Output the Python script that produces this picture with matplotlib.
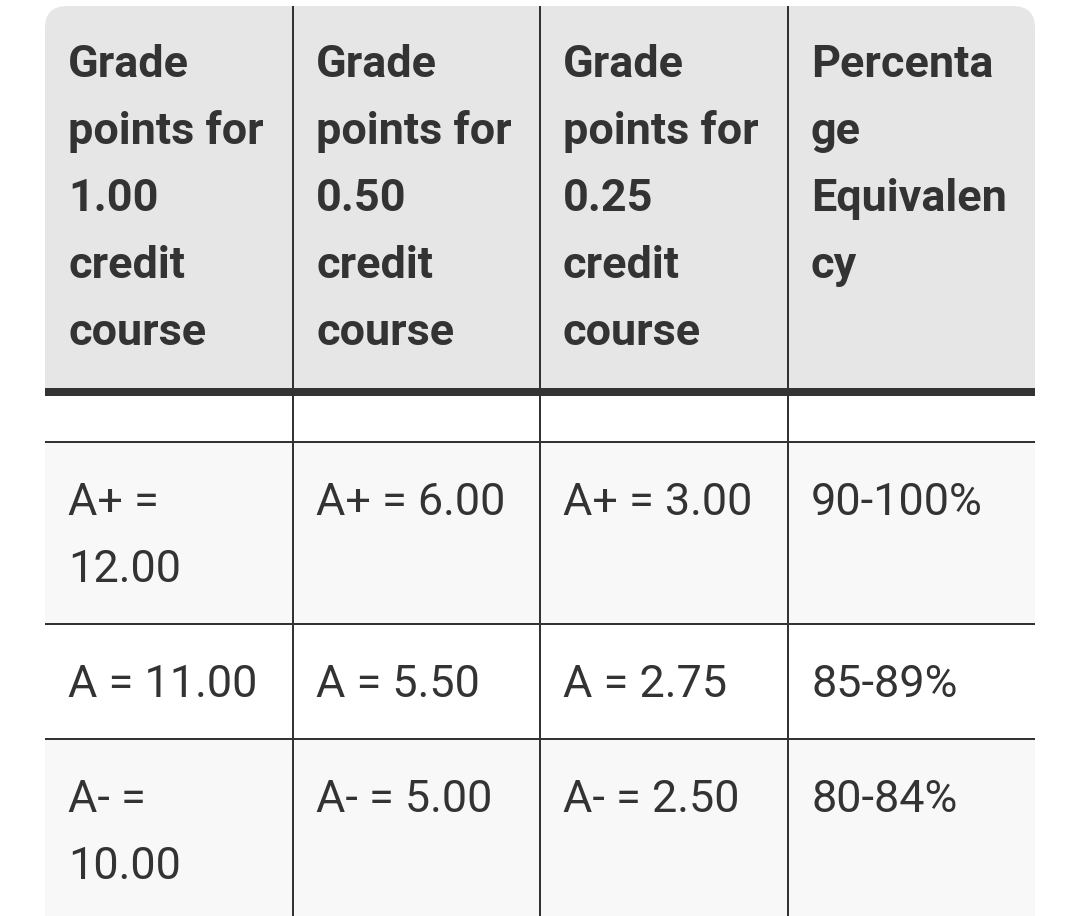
import matplotlib
matplotlib.use("Agg")
import matplotlib.pyplot as plt
from matplotlib.patches import Rectangle, FancyBboxPatch

# table content (header cells are kept as they wrap in the picture)
headers = [
    ["Grade", "points for", "1.00", "credit", "course"],
    ["Grade", "points for", "0.50", "credit", "course"],
    ["Grade", "points for", "0.25", "credit", "course"],
    ["Percenta", "ge", "Equivalen", "cy"],
]
col_100 = [["A+ =", "12.00"], ["A = 11.00"], ["A- =", "10.00"]]
col_050 = ["A+ = 6.00", "A = 5.50", "A- = 5.00"]
col_025 = ["A+ = 3.00", "A = 2.75", "A- = 2.50"]
percent = ["90-100%", "85-89%", "80-84%"]

# layout in pixels
W, H = 1080, 916
col_edges = [45, 293, 540, 788, 1035]
header_top, header_bottom = 6, 388
thick = 8
empty_row_h = 45
row_heights = [180, 113, 180]
line_w = 2
line_step = 67
first_base = 71
pad_x = 23
text_col = "#333333"
line_col = "#333333"
header_bg = "#e6e6e6"
stripe_bg = "#f8f8f8"

plt.rcParams["font.family"] = ["Roboto", "DejaVu Sans"]
fs = 32.4

fig = plt.figure(figsize=(W / 100, H / 100), dpi=100)
ax = fig.add_axes([0, 0, 1, 1])
ax.set_xlim(0, W)
ax.set_ylim(H, 0)
ax.axis("off")

left, right = col_edges[0], col_edges[-1]

# header background with rounded top corners
ax.add_patch(FancyBboxPatch((left, header_top), right - left, header_bottom - header_top,
                            boxstyle="round,pad=0,rounding_size=22",
                            fc=header_bg, ec="none", zorder=1))
ax.add_patch(Rectangle((left, header_top + 60), right - left, header_bottom - header_top - 60,
                       fc=header_bg, ec="none", zorder=1))
# thick rule under header
ax.add_patch(Rectangle((left, header_bottom), right - left, thick, fc=line_col, ec="none", zorder=3))

# rows
y = header_bottom + thick + empty_row_h
ax.add_patch(Rectangle((left, y), right - left, line_w, fc=line_col, ec="none", zorder=3))
y += line_w
row_tops = []
for i, h in enumerate(row_heights):
    row_tops.append(y)
    bg = stripe_bg if i % 2 == 0 else "white"
    ax.add_patch(Rectangle((left, y), right - left, h, fc=bg, ec="none", zorder=1))
    y += h
    if i < len(row_heights) - 1:
        ax.add_patch(Rectangle((left, y), right - left, line_w, fc=line_col, ec="none", zorder=3))
        y += line_w

# vertical lines
for x in col_edges[1:-1]:
    ax.add_patch(Rectangle((x - 1, header_top), line_w, H - header_top, fc=line_col, ec="none", zorder=3))

# header text
for c, lines in enumerate(headers):
    for k, s in enumerate(lines):
        ax.text(col_edges[c] + pad_x, header_top + first_base + k * line_step, s,
                fontsize=fs, fontweight="bold", color=text_col, va="baseline", ha="left", zorder=4)

# body text
body = [col_100, [[s] for s in col_050], [[s] for s in col_025], [[s] for s in percent]]
for c, col in enumerate(body):
    for r, lines in enumerate(col):
        for k, s in enumerate(lines):
            ax.text(col_edges[c] + pad_x, row_tops[r] + first_base + 1 + k * line_step, s,
                    fontsize=fs, color=text_col, va="baseline", ha="left", zorder=4)

fig.savefig("out.png", dpi=100, facecolor="white")
